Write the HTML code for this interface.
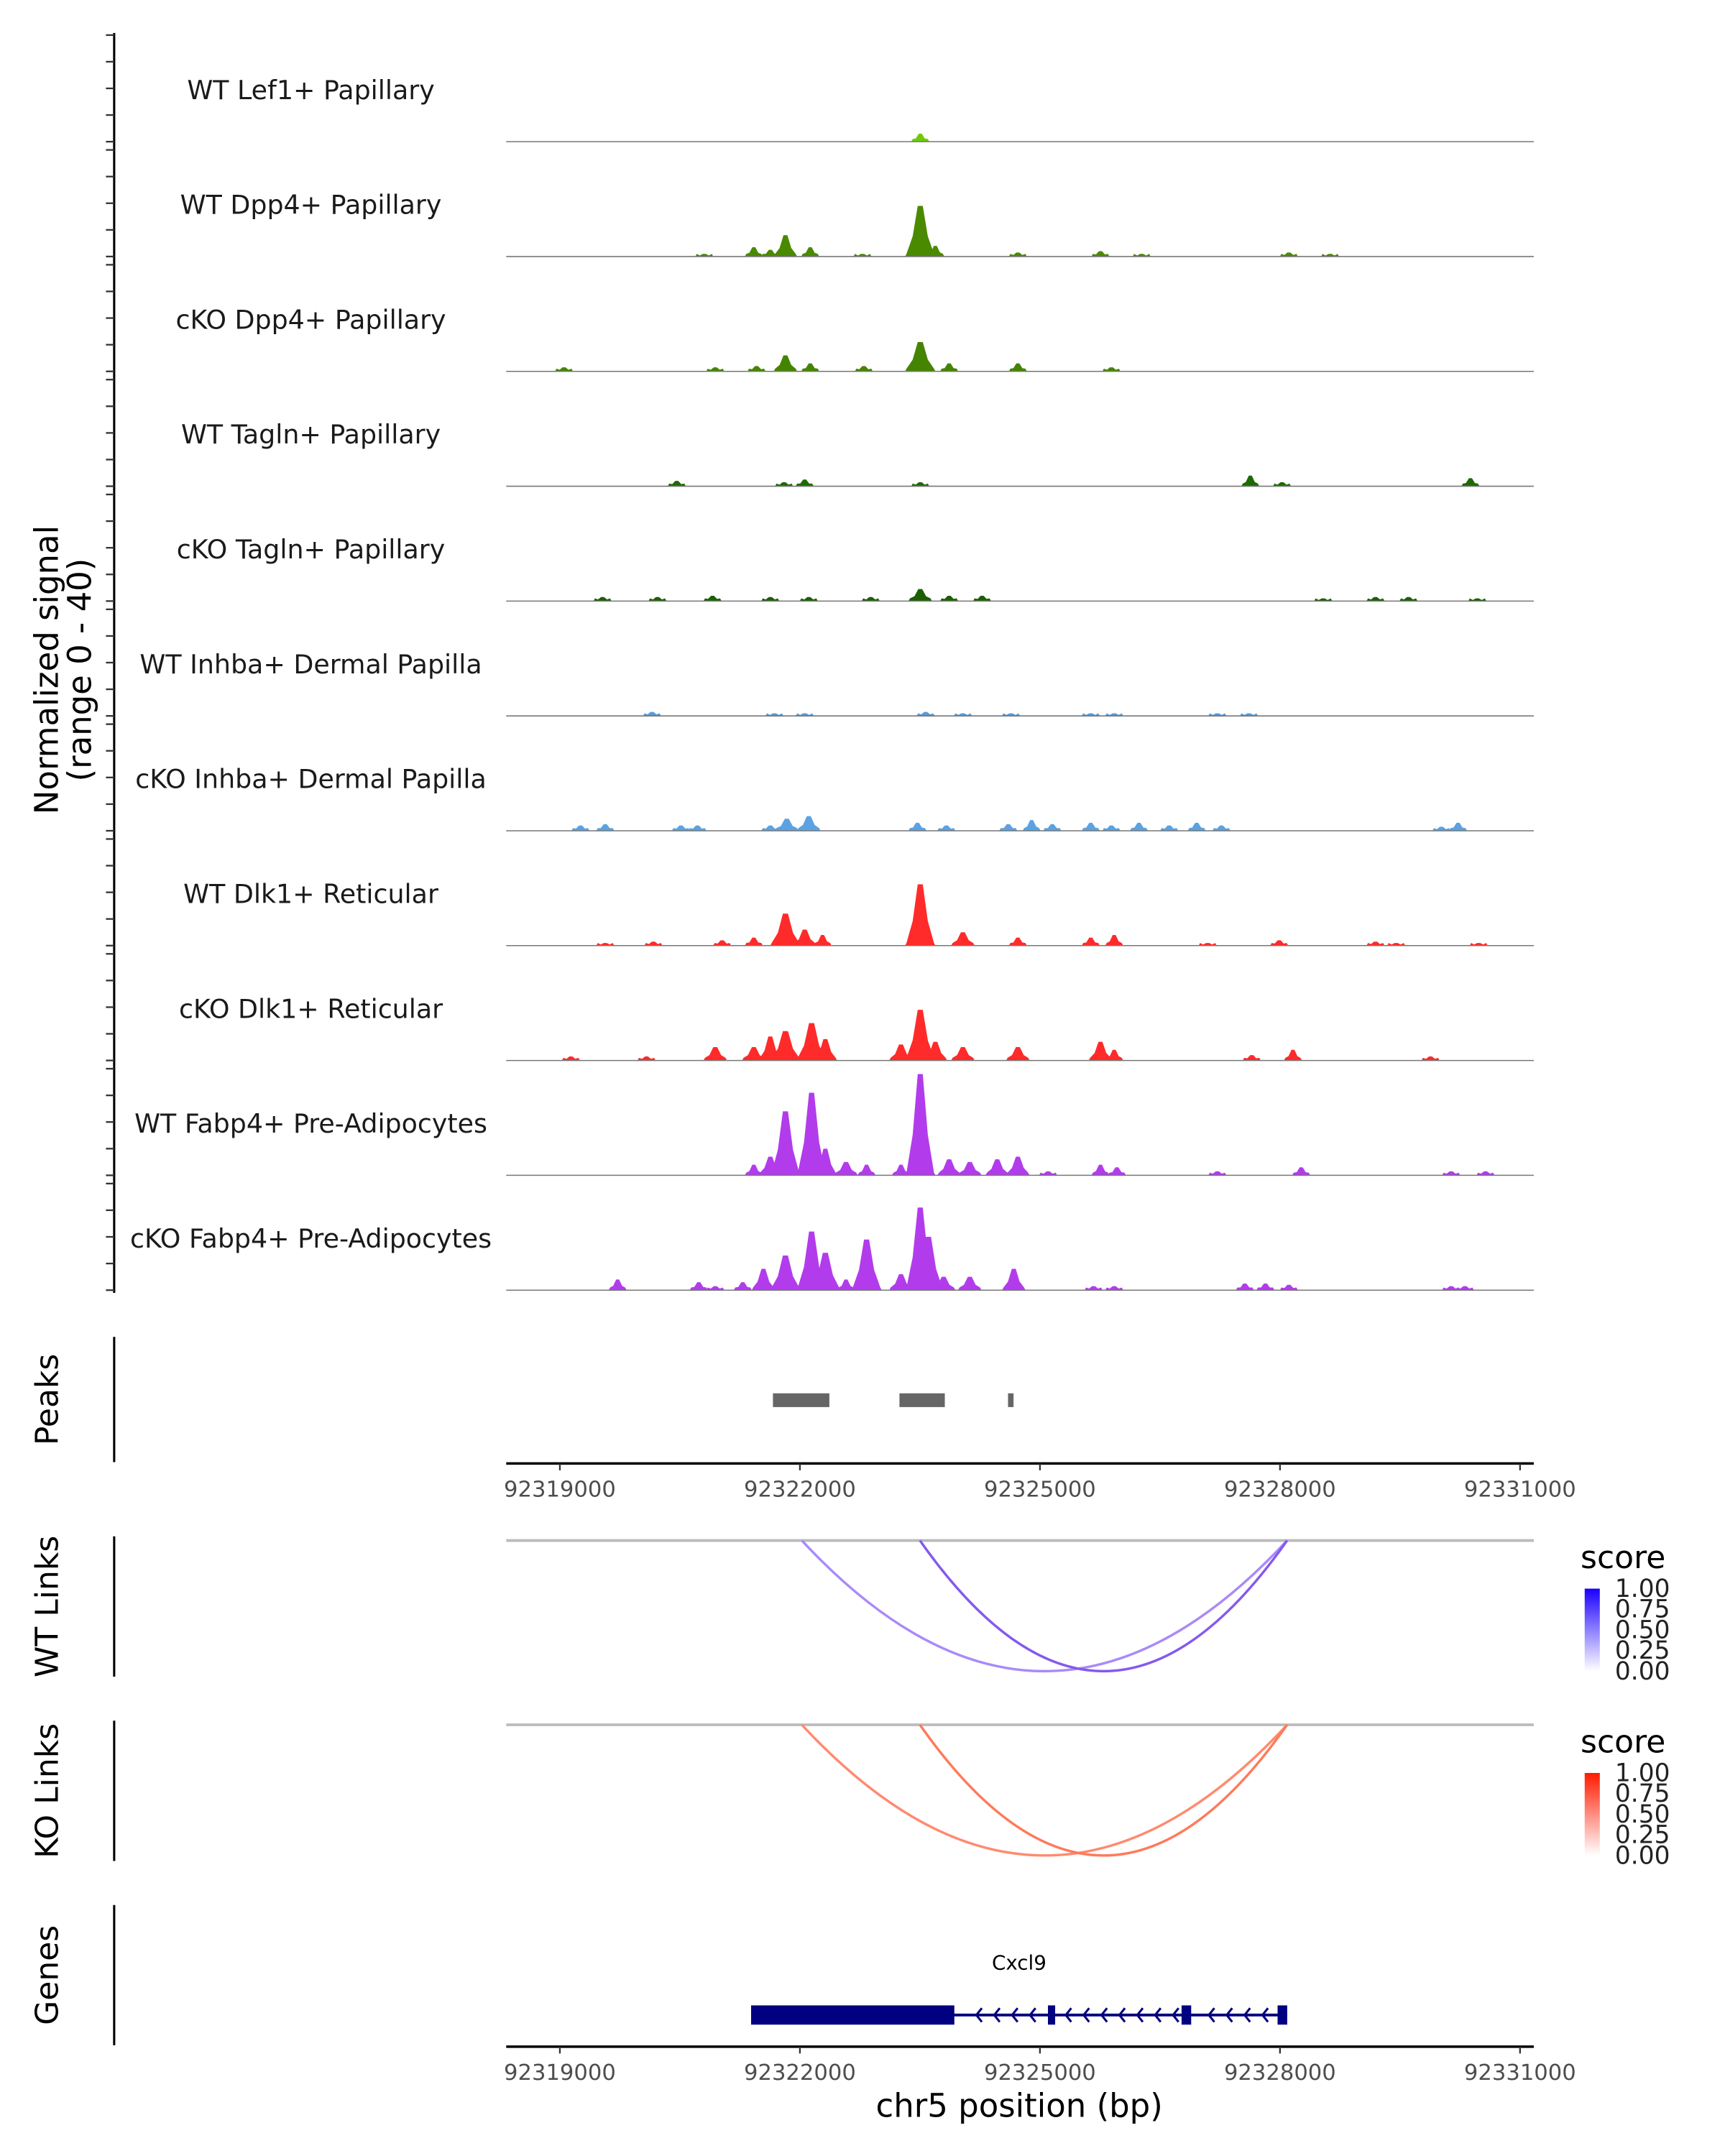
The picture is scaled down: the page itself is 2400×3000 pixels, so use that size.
<!DOCTYPE html>
<html><head><meta charset="utf-8">
<style>
html,body{margin:0;padding:0;background:#fff;}
svg{display:block;font-family:"DejaVu Sans","Liberation Sans",sans-serif;}
</style></head>
<body>
<svg id="chart" width="2400" height="3000" viewBox="0 0 1254 1567.5" xmlns="http://www.w3.org/2000/svg">
<g id="tracks"></g>
<text transform="translate(42,487) rotate(-90)" text-anchor="middle" font-size="23.5" fill="#000">Normalized signal</text>
<text transform="translate(66,487) rotate(-90)" text-anchor="middle" font-size="23.5" fill="#000">(range 0 - 40)</text>
<g id="peaks"></g>
<g id="links"></g>
<g id="genes"></g>
</svg>
<script>
const REGION_START = 92319000;
const trackLabels = ["WT Lef1+ Papillary","WT Dpp4+ Papillary","cKO Dpp4+ Papillary","WT Tagln+ Papillary","cKO Tagln+ Papillary","WT Inhba+ Dermal Papilla","cKO Inhba+ Dermal Papilla","WT Dlk1+ Reticular","cKO Dlk1+ Reticular","WT Fabp4+ Pre-Adipocytes","cKO Fabp4+ Pre-Adipocytes"];
const trackColors = ["#6ccc08","#4a8a00","#448400","#1e6a00","#1a6000","#5b9bd5","#5aa2e2","#ff2a2a","#ff2a2a","#b23cec","#b23cec"];
// peak offsets (bp from region start) and heights (signal units, range 0-40)
const peakOffsets = [
 [4504],
 [1805,2424,2630,2819,3129,3782,4504,4693,5724,6756,7271,9111,9626],
 [52,1942,2458,2819,3129,3799,4504,4865,5724,6893],
 [1461,2802,3060,4504,8629,9025,11380],
 [533,1220,1908,2630,3111,3885,4504,4865,5277,9540,10194,10606,11466],
 [1152,2682,3060,4572,5037,5638,6635,6928,8217,8612],
 [258,567,1513,1719,2630,2836,3111,4469,4830,5604,5896,6154,6635,6893,7237,7615,7959,8268,11018,11225],
 [567,1169,2028,2424,2819,3060,3283,4504,5037,5724,6635,6928,8096,8990,10194,10452,11483],
 [138,1083,1942,2424,2630,2819,3146,3318,4263,4504,4693,5037,5724,6756,6928,8647,9162,10881],
 [2424,2630,2819,3146,3318,3576,3833,4263,4504,4865,5123,5466,5724,6102,6756,6962,8217,9265,11139,11569],
 [722,1736,1942,2286,2544,2819,3146,3318,3576,3833,4263,4504,4607,4796,5123,5673,6670,6928,8561,8818,9111,11139,11311]
];
const peakHeights = [
 [3],
 [1,3.5,2.5,8,3.5,1,19,4,1.5,2,1,1.5,1],
 [1.5,1.5,2,6,3,2,11,3,3,1.5],
 [2,1.5,2.5,1.5,4,1.5,3],
 [1.5,1.5,2,1.5,1.5,1.5,4.5,2,2,1,1.5,1.5,1],
 [1.5,1,1,1.5,1,1,1,1,1,1],
 [2,2.5,2,2,2,4.5,5.5,3,2,2.5,4,2.5,3,2,3,2,3,2,1.5,3],
 [1,1.5,2,3,12,6,4,23,5,3,3,4,1,2,1.5,1,1],
 [1.5,1.5,5,5,9,11,14,8,6,19,7,5,5,7,4,2,4,1.5],
 [4,7,24,31,10,5,4,4,38,6,5,6,7,1.5,4,3,1.5,3,1.5,1.5],
 [4,3,1.5,3,8,13,22,14,4,19,6,31,20,5,5,8,1.5,1.5,2.5,2.5,2,1.5,1.5]
];
const xTicks = [92319000,92322000,92325000,92328000,92331000];
const peakRegions = [[92321663,92322368],[92323244,92323811],[92324601,92324670]];
const wtLinks = [[92322024,92328089],[92323500,92328089]];
const koLinks = [[92322024,92328089],[92323500,92328089]];
const wtLinkColors = ["#a98af8","#8559ee"];
const koLinkColors = ["#ff8a70","#ff7a5a"];
const legendTicks = ["1.00","0.75","0.50","0.25","0.00"];
const geneExons = [[92321390,92323930],[92325100,92325190],[92326770,92326890],[92327970,92328090]];
const geneSpan = [92321390,92328090];

const NS = "http://www.w3.org/2000/svg";
const X0 = 368, X1 = 1115;
const xScale = bp => 407 + (bp - 92319000) * (698 / 12000);
const TRACK_H = 77.5, TRACK_STEP = 83.5, FIRST_BASE = 103;
const yScale = (v, base) => base - v * TRACK_H / 40;
function mk(tag, attrs, parent){ const e=document.createElementNS(NS,tag); for(const k in attrs) e.setAttribute(k,attrs[k]); parent.appendChild(e); return e; }

const tracks = document.getElementById('tracks');
const ax = mk('line',{x1:83,y1:24,x2:83,y2:940,stroke:'#000','stroke-width':1.6},tracks);


trackLabels.forEach((lab,i)=>{
  const base = FIRST_BASE + i*TRACK_STEP;
  for(let t=0;t<=40;t+=10){
    const tk = mk('line',{x1:77,x2:83,y1:yScale(t,base),y2:yScale(t,base),stroke:'#333','stroke-width':1.2},tracks);
    
    
  }
  const tx = mk('text',{x:226,y:base-31,'text-anchor':'middle','font-size':19,fill:'#1a1a1a'},tracks);
  tx.textContent = lab;
  
  
  peakOffsets[i].forEach((off,j)=>{
    const h = peakHeights[i][j];
    const cx = xScale(REGION_START + off);
    const w = h > 10 ? 22 : (h > 4 ? 17 : 13);
    const top = yScale(h, base);
    const mid = yScale(h*0.4, base);
    const pts = [[cx-w/2,base],[cx-w/2+1,yScale(Math.min(h,1),base)],[cx-w/4,mid],[cx-w/12,top],[cx+w/12,top],[cx+w/4,mid],[cx+w/2-1,yScale(Math.min(h,1),base)],[cx+w/2,base]].map(p=>p.join(',')).join(' ');
    const pg = mk('polygon',{points:pts,fill:trackColors[i]},tracks);
    
    
  });
  const bl = mk('line',{x1:X0,x2:X1,y1:base,y2:base,stroke:'#777','stroke-width':0.8},tracks);
  
  
});

const pk = document.getElementById('peaks');
function sideAxis(g, y1, y2, label, name){
  const l = mk('line',{x1:83,x2:83,y1:y1,y2:y2,stroke:'#000','stroke-width':1.6},g);
  
  
  const t = mk('text',{transform:`translate(42,${(y1+y2)/2}) rotate(-90)`,'text-anchor':'middle','font-size':23,fill:'#000'},g);
  t.textContent = label;
  
  
}
function xAxis(g, y, name){
  const l = mk('line',{x1:X0,x2:X1,y1:y,y2:y,stroke:'#000','stroke-width':1.8},g);
  
  
  xTicks.forEach(t=>{
    const x = xScale(t);
    const tk = mk('line',{x1:x,x2:x,y1:y,y2:y+5,stroke:'#333','stroke-width':1.2},g);
    
    
    const tl = mk('text',{x:x,y:y+24,'text-anchor':'middle','font-size':16,fill:'#4d4d4d'},g);
    tl.textContent = t;
    
    
  });
}
sideAxis(pk, 972, 1063, 'Peaks', 'peaks');
peakRegions.forEach(r=>{
  const x1 = xScale(r[0]), x2 = xScale(r[1]);
  const rc = mk('rect',{x:x1,y:1013,width:Math.max(x2-x1,2),height:10,fill:'#666'},pk);
  
  
});
xAxis(pk, 1064, 'peaks-x');

const lk = document.getElementById('links');
const defs = mk('defs',{},lk);
function grad(id, c){
  const g = mk('linearGradient',{id:id,x1:0,y1:1,x2:0,y2:0},defs);
  mk('stop',{offset:0,'stop-color':'#ffffff'},g);
  mk('stop',{offset:1,'stop-color':c},g);
}
grad('gw','#1a00ff'); grad('gk','#ff1a00');
function linkPanel(top, links, colors, label, name, gid){
  sideAxis(lk, top, top+102, label, name);
  const y0 = top+3;
  const bl = mk('line',{x1:X0,x2:X1,y1:y0,y2:y0,stroke:'#bbb','stroke-width':2},lk);
  
  
  links.forEach((l,i)=>{
    const a = xScale(l[0]), b = xScale(l[1]);
    const depth = 95;
    const p = mk('path',{d:`M${a},${y0} Q${(a+b)/2},${y0+2*depth} ${b},${y0}`,fill:'none',stroke:colors[i],'stroke-width':1.8},lk);
    
    
  });
  const lt = mk('text',{x:1149,y:top+23,'font-size':23,fill:'#000'},lk);
  lt.textContent = 'score';
  
  
  const r = mk('rect',{x:1152,y:top+38,width:11,height:60,fill:`url(#${gid})`},lk);
  
  
  legendTicks.forEach((t,i)=>{
    const y = top+38+i*15;
    const tx = mk('text',{x:1174,y:y+6,'font-size':18,fill:'#222'},lk);
    tx.textContent = t;
    
    
  });
}
linkPanel(1117, wtLinks, wtLinkColors, 'WT Links', 'wt-links', 'gw');
linkPanel(1251, koLinks, koLinkColors, 'KO Links', 'ko-links', 'gk');

const gn = document.getElementById('genes');
sideAxis(gn, 1385, 1487, 'Genes', 'genes');
const GY = 1465;
const gs = xScale(geneSpan[0]), ge = xScale(geneSpan[1]);
const gl = mk('line',{x1:gs,x2:ge,y1:GY,y2:GY,stroke:'#000080','stroke-width':2},gn);


geneExons.forEach(e=>{
  const a = xScale(e[0]), b = xScale(e[1]);
  const r = mk('rect',{x:a,y:GY-7,width:b-a,height:14,fill:'#000080'},gn);
  
  
});
for(let x=xScale(geneExons[0][1])+3; x<ge-4; x+=13){
  const inExon = geneExons.some(e=>x>xScale(e[0])-3 && x<xScale(e[1])+4);
  if(inExon) continue;
  const ar = mk('path',{d:`M${x+4},${GY-5} L${x},${GY} L${x+4},${GY+5}`,fill:'none',stroke:'#000080','stroke-width':1.6},gn);
  
  
}
const gt = mk('text',{x:(gs+ge)/2,y:1432,'text-anchor':'middle','font-size':14.5,fill:'#000'},gn);
gt.textContent = 'Cxcl9';


xAxis(gn, 1488, 'genes-x');
const xt = mk('text',{x:741,y:1539,'text-anchor':'middle','font-size':23.5,fill:'#000'},gn);
xt.textContent = 'chr5 position (bp)';


</script>
</body></html>
